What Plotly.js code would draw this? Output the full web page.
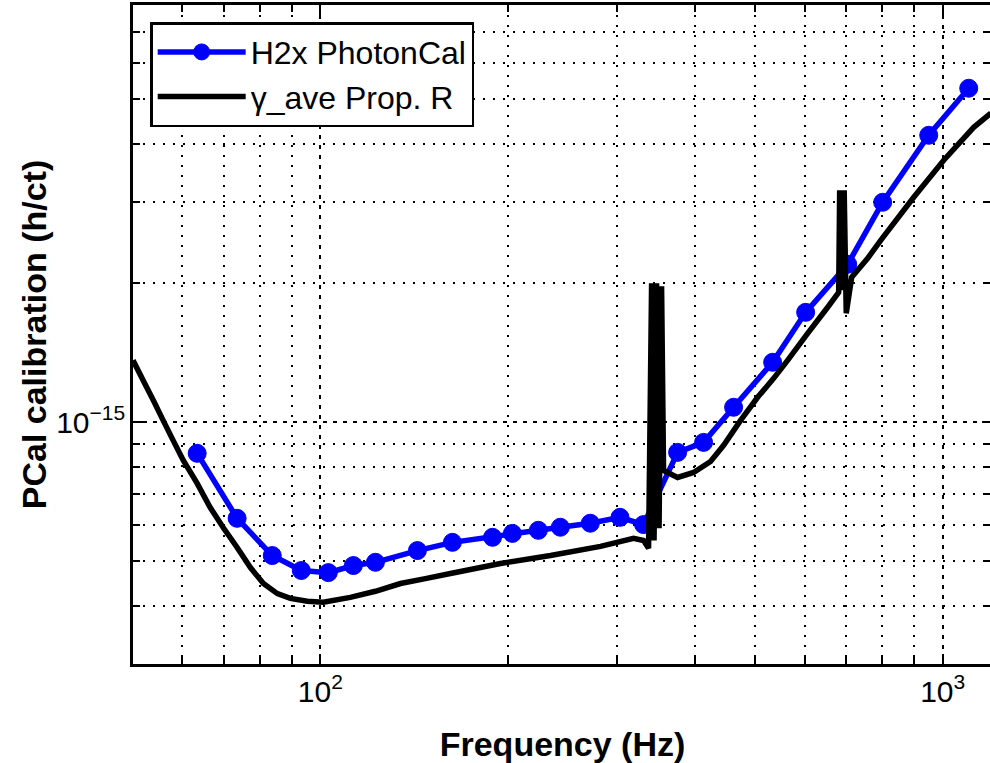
<!DOCTYPE html>
<html>
<head>
<meta charset="utf-8">
<script src="https://cdn.plot.ly/plotly-3.0.1.min.js"></script>
<style>
html,body{margin:0;padding:0;overflow:hidden;background:#fff;}
#plot{width:993px;height:763px;}
</style>
</head>
<body>
<div id="plot"></div>
<script>
// H2x PhotonCal measurement points (Hz, h/ct)
var blueFreq = [63.4, 73.5, 83.7, 93.2, 103.0, 113.0, 122.6, 143.2, 163.0, 189.1, 203.5, 224.0, 243.0, 271.5, 303.0, 330.6, 375.0, 412.8, 461.3, 533.0, 602.2, 703.6, 800.8, 949.5, 1101];
var blueVal = [8.57e-16, 6.20e-16, 5.15e-16, 4.78e-16, 4.73e-16, 4.90e-16, 4.98e-16, 5.28e-16, 5.50e-16, 5.64e-16, 5.75e-16, 5.84e-16, 5.93e-16, 6.05e-16, 6.23e-16, 6.01e-16, 8.61e-16, 9.05e-16, 1.078e-15, 1.349e-15, 1.730e-15, 2.198e-15, 2.994e-15, 4.18e-15, 5.284e-15];

// gamma_ave propagated response curve (Hz, h/ct), incl. the two narrow resonance features
var blackFreq = [50.0, 51.9, 53.9, 55.9, 58.0, 60.2, 63.4, 66.5, 69.8, 73.5, 77.2, 81.0, 85.3, 89.5, 95.3, 101.1, 111.7, 122.6, 134.5, 147.5, 161.8, 194.7, 234.3, 281.9, 318.6, 330.6, 336.8, 340.6, 343.7, 346.9, 350.1, 353.4, 356.0, 361.4, 375.0, 397.8, 423.6, 444.6, 473.4, 504.2, 535.0, 563.3, 606.7, 653.4, 680.5, 683.0, 689.4, 694.5, 699.8, 714.0, 757.6, 794.9, 898.3, 1003.7, 1121.4, 1195];
var blackVal = [1.362e-15, 1.233e-15, 1.116e-15, 1.010e-15, 9.14e-16, 8.28e-16, 7.38e-16, 6.55e-16, 5.92e-16, 5.36e-16, 4.85e-16, 4.48e-16, 4.26e-16, 4.16e-16, 4.10e-16, 4.08e-16, 4.18e-16, 4.31e-16, 4.48e-16, 4.59e-16, 4.71e-16, 4.95e-16, 5.15e-16, 5.39e-16, 5.61e-16, 5.55e-16, 5.34e-16, 2.00e-15, 5.55e-16, 2.00e-15, 5.90e-16, 1.97e-15, 7.87e-16, 7.79e-16, 7.60e-16, 7.79e-16, 8.23e-16, 8.92e-16, 1.010e-15, 1.133e-15, 1.245e-15, 1.362e-15, 1.558e-15, 1.774e-15, 1.911e-15, 3.178e-15, 1.931e-15, 3.178e-15, 1.722e-15, 2.060e-15, 2.265e-15, 2.477e-15, 3.069e-15, 3.691e-15, 4.35e-15, 4.666e-15];

var seriesNames = ['H2x PhotonCal', '\u03b3_ave Prop. R'];
var xTitle = 'Frequency (Hz)';
var yTitle = 'PCal calibration (h/ct)';

var FONT = 'Liberation Sans, Arial, Helvetica, sans-serif';

var traces = [
  {
    x: blueFreq, y: blueVal, name: seriesNames[0], type: 'scatter', mode: 'lines+markers',
    line: {color: '#0000ff', width: 5.5},
    marker: {color: '#0000ff', size: 18, symbol: 'circle', line: {color: '#0000ff', width: 1}}
  },
  {
    x: blackFreq, y: blackVal, name: seriesNames[1], type: 'scatter', mode: 'lines',
    line: {color: '#000000', width: 5.5, simplify: false}
  }
];

function logAxis(range, title, standoff) {
  var ax = {
    type: 'log',
    range: range,
    dtick: 1,
    exponentformat: 'power',
    showgrid: true,
    gridcolor: '#000',
    gridwidth: 2,
    griddash: '4px,6px',
    zeroline: false,
    showline: true,
    linecolor: '#000',
    linewidth: 3,
    mirror: 'ticks',
    ticks: 'inside',
    ticklen: 10,
    tickwidth: 2,
    tickcolor: '#000',
    tickfont: {family: FONT, size: 24, color: '#000'},
    minor: {
      dtick: 'D1',
      showgrid: true,
      gridcolor: '#000',
      gridwidth: 2,
      griddash: '2px,8px',
      ticks: 'inside',
      ticklen: 7,
      tickwidth: 2,
      tickcolor: '#000'
    },
    title: {text: title, font: {family: FONT, size: 34, color: '#000', weight: 'bold'}},
    automargin: false
  };
  if (standoff !== undefined) ax.title.standoff = standoff;
  return ax;
}

var layout = {
  width: 993,
  height: 763,
  margin: {l: 133, r: 1, t: 5, b: 99},
  paper_bgcolor: '#fff',
  plot_bgcolor: '#fff',
  showlegend: true,
  xaxis: logAxis([Math.log10(50), Math.log10(1200)], xTitle),
  yaxis: logAxis([Math.log10(3e-16), Math.log10(8e-15)], yTitle, 0),
  legend: {
    x: 0.02, y: 0.974, xanchor: 'left', yanchor: 'top',
    bgcolor: '#fff', bordercolor: '#000', borderwidth: 2.5,
    font: {family: FONT, size: 32, color: '#000'},
    itemwidth: 88, tracegroupgap: 0
  }
};

Plotly.newPlot('plot', traces, layout, {staticPlot: true, displayModeBar: false});
</script>
</body>
</html>
